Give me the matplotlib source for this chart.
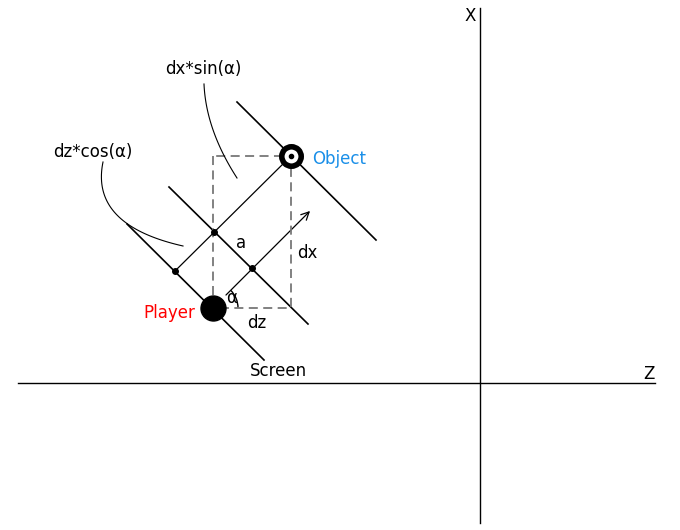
import matplotlib
matplotlib.use("Agg")
import matplotlib.pyplot as plt
import numpy as np
from matplotlib.patches import Arc, FancyArrowPatch

W, H = 680, 530
player = (213, 308)
obj = (291, 156)
screen_lines = [((127, 224), (264, 360)), ((169, 187), (308, 324)), ((237, 102), (376, 240))]
dots = [(175, 271), (214, 232), (252, 268)]
labels = [("X", 470, 16, "black"), ("Z", 649, 374, "black"), ("a", 241, 243, "black"),
          ("dx", 307, 253, "black"), ("dz", 257, 323, "black"), ("α", 232, 298, "black"),
          ("Player", 169, 313, "red"), ("Object", 339, 159, "#1a8fe8"),
          ("Screen", 278, 371, "black"), ("dx*sin(α)", 203, 69, "black"),
          ("dz*cos(α)", 93, 152, "black")]

fig = plt.figure(figsize=(W/100, H/100), dpi=100)
ax = fig.add_axes([0, 0, 1, 1])
ax.set_xlim(0, W); ax.set_ylim(H, 0); ax.axis("off")

ax.plot([18, 655], [383, 383], color="black", lw=1)
ax.plot([480, 480], [8, 523], color="black", lw=1)
for (a, b) in screen_lines:
    ax.plot([a[0], b[0]], [a[1], b[1]], color="black", lw=1.2)
ax.plot([player[0], player[0], obj[0], obj[0], player[0]],
        [obj[1], player[1], player[1], obj[1], obj[1]], color="#777777", lw=1.3, dashes=(5, 3))
ax.plot([175, obj[0]], [271, obj[1]], color="black", lw=0.9)
ax.add_patch(FancyArrowPatch((224, 297), (312, 209), arrowstyle="->", mutation_scale=14, color="black", lw=0.9))
for d in dots:
    ax.plot(*d, "o", color="black", ms=4)
ax.plot(*player, "o", color="black", ms=18)
ax.plot(*obj, "o", mfc="white", mec="black", mew=4, ms=14)
ax.plot(*obj, "o", color="black", ms=3)
ax.add_patch(Arc(player, 50, 50, theta1=-45, theta2=0, color="black", lw=1))

# leader curves
t = np.linspace(0, 1, 50)
def bez(p0, p1, p2):
    return [(1-t)**2*p0[i] + 2*(1-t)*t*p1[i] + t**2*p2[i] for i in range(2)]
ax.plot(*bez((204, 84), (206, 130), (237, 178)), color="black", lw=0.8)
ax.plot(*bez((103, 162), (90, 225), (183, 246)), color="black", lw=0.8)

for s, x, y, c in labels:
    ax.text(x, y, s, color=c, fontsize=12, ha="center", va="center", family="DejaVu Sans")

fig.savefig("out.png", dpi=100)
